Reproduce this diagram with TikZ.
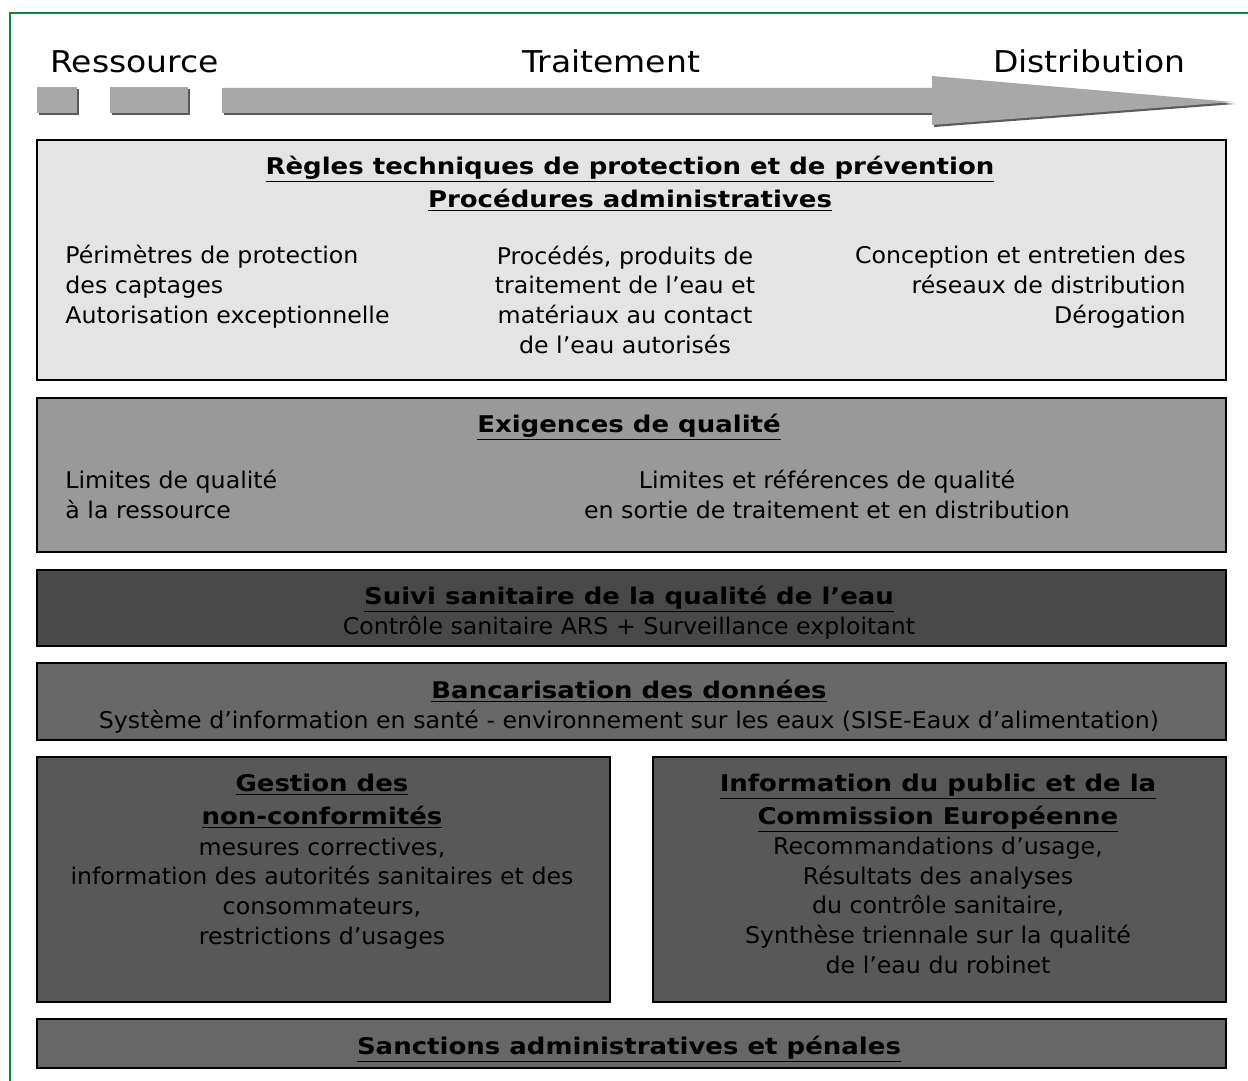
\documentclass[tikz,border=0pt]{standalone}
\usepackage{fontspec}
\setmainfont{DejaVu Sans}
\newfontfamily\bodyfont[FakeStretch=1.03]{DejaVu Sans}
\newfontfamily\headfont[FakeStretch=1.13]{DejaVu Sans}
\newfontfamily\topfont[FakeStretch=1.1]{DejaVu Sans}
\definecolor{framegreen}{RGB}{20,130,60}
\definecolor{arrowgray}{RGB}{168,168,168}
\definecolor{arrowdark}{RGB}{90,90,90}
\definecolor{paleBox}{RGB}{228,228,228}
\definecolor{midBox}{RGB}{153,153,153}
\definecolor{darkBox}{RGB}{72,72,72}
\definecolor{dataBox}{RGB}{104,104,104}
\definecolor{actBox}{RGB}{88,88,88}
\definecolor{sanctBox}{RGB}{103,103,103}
\tikzset{
  panel/.style={draw=black,line width=0.8pt},
  toplabel/.style={font=\topfont\fontsize{15}{18}\selectfont,inner sep=0pt},
  heading/.style={font=\headfont\bfseries\fontsize{11.5}{16.5}\selectfont,inner sep=0pt,align=center},
  bodytext/.style={font=\bodyfont\fontsize{11.5}{14.8}\selectfont,inner sep=0pt}
}
\newcommand{\ul}[1]{\underline{#1}}
\begin{document}
\begin{tikzpicture}[x=0.5pt,y=-0.5pt]
\useasboundingbox (0,0) rectangle (1248,1081);
% cadre vert
\draw[color=framegreen,line width=0.6pt] (10,1081) -- (10,13) -- (1248,13);

% fleche du haut
\node[toplabel,anchor=base west] (ressource) at (50,73) {Ressource};
\node[toplabel,anchor=base] (traitement) at (611,73) {Traitement};
\node[toplabel,anchor=base east] (distribution) at (1186,73) {Distribution};
\foreach \dx/\col in {2/arrowdark,0/arrowgray} {
  \fill[\col,shift={(\dx,\dx)}] (37,87) rectangle (77,113);
  \fill[\col,shift={(\dx,\dx)}] (110,87) rectangle (188,113);
  \fill[\col,shift={(\dx,\dx)}] (222,88) -- (932,88) -- (932,76) -- (1233,102)
    -- (932,125) -- (932,113) -- (222,113) -- cycle;
}

% regles techniques (base = derniere ligne)
\draw[panel,fill=paleBox] (37,140) rectangle (1226,380);
\node[heading,anchor=base] (regles) at (630,207)
  {\ul{Règles techniques de protection et de prévention}\\\ul{Procédures administratives}};
\node[bodytext,anchor=base west,align=left] (perimetres) at (65,323)
  {Périmètres de protection\\des captages\\Autorisation exceptionnelle};
\node[bodytext,anchor=base,align=center] (procedes) at (625,353)
  {Procédés, produits de\\traitement de l’eau et\\matériaux au contact\\de l’eau autorisés};
\node[bodytext,anchor=base east,align=right] (reseaux) at (1186,323)
  {Conception et entretien des\\réseaux de distribution\\Dérogation};

% exigences de qualite
\draw[panel,fill=midBox] (37,398) rectangle (1226,552);
\node[heading,anchor=base] (exigences) at (629,432) {\ul{Exigences de qualité}};
\node[bodytext,anchor=base west,align=left] (limRessource) at (65,518)
  {Limites de qualité\\à la ressource};
\node[bodytext,anchor=base,align=center] (limSortie) at (827,518)
  {Limites et références de qualité\\en sortie de traitement et en distribution};

% suivi sanitaire
\draw[panel,fill=darkBox] (37,570) rectangle (1226,646);
\node[heading,anchor=base] (suivi) at (629,604) {\ul{Suivi sanitaire de la qualité de l’eau}};
\node[bodytext,anchor=base] (controle) at (629,634)
  {Contrôle sanitaire ARS + Surveillance exploitant};

% bancarisation
\draw[panel,fill=dataBox] (37,663) rectangle (1226,740);
\node[heading,anchor=base] (bancarisation) at (629,698) {\ul{Bancarisation des données}};
\node[bodytext,anchor=base] (sise) at (629,728)
  {Système d’information en santé - environnement sur les eaux (SISE-Eaux d’alimentation)};

% gestion / information
\draw[panel,fill=actBox] (37,757) rectangle (610,1002);
\draw[panel,fill=actBox] (653,757) rectangle (1226,1002);
\node[heading,anchor=base] (gestion) at (322,824) {\ul{Gestion des}\\\ul{non-conformités}};
\node[bodytext,anchor=base,align=center] (mesures) at (322,944)
  {mesures correctives,\\information des autorités sanitaires et des\\consommateurs,\\restrictions d’usages};
\node[heading,anchor=base] (infoPublic) at (938,824)
  {\ul{Information du public et de la}\\\ul{Commission Européenne}};
\node[bodytext,anchor=base,align=center] (recommandations) at (938,973)
  {Recommandations d’usage,\\Résultats des analyses\\du contrôle sanitaire,\\Synthèse triennale sur la qualité\\de l’eau du robinet};

% sanctions
\draw[panel,fill=sanctBox] (37,1019) rectangle (1226,1068);
\node[heading,anchor=base] (sanctions) at (629,1054) {\ul{Sanctions administratives et pénales}};
\end{tikzpicture}
\end{document}
